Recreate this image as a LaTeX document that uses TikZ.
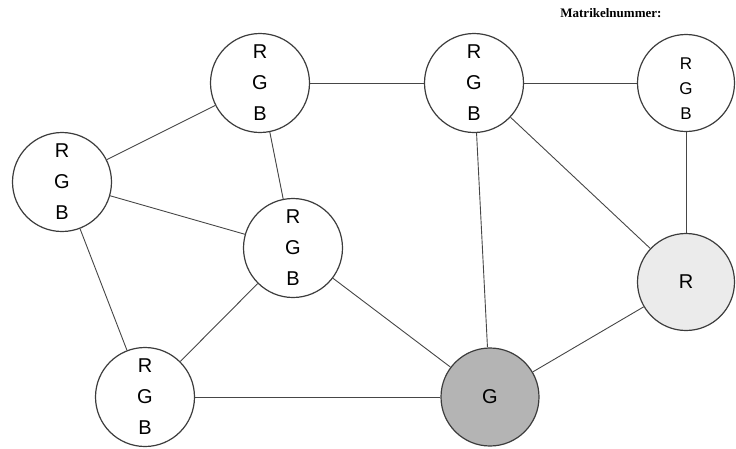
\documentclass[tikz,border=0pt]{standalone}
\usepackage{fontspec}
\setmainfont{Liberation Serif}
\newfontfamily\sansfnt{Liberation Sans}
\definecolor{lightfill}{RGB}{235,235,235}
\definecolor{darkfill}{RGB}{180,180,180}
\definecolor{rimcol}{RGB}{60,60,60}
\definecolor{edgecol}{RGB}{70,70,70}
\begin{document}
\begin{tikzpicture}[x=1pt,y=-1pt,
  vertex/.style={circle,draw=rimcol,line width=1.2pt,fill=white,minimum size=99pt,inner sep=0pt,
    align=center,font=\sansfnt\fontsize{20}{31}\selectfont},
  smallvertex/.style={vertex,minimum size=97pt,font=\sansfnt\fontsize{17}{25}\selectfont},
  link/.style={draw=edgecol,line width=0.9pt}]
\useasboundingbox (0,0) rectangle (736,448);
\node[anchor=base east,font=\bfseries\fontsize{13}{15}\selectfont] (title) at (665,17) {Matrikelnummer:};
\node[vertex] (L) at (62,182) {R\\G\\B};
\node[vertex] (TL) at (260,83) {R\\G\\B};
\node[vertex] (C) at (293,248) {R\\G\\B};
\node[vertex] (BL) at (145,397) {R\\G\\B};
\node[vertex] (TR) at (474,83) {R\\G\\B};
\node[smallvertex] (FR) at (686,83) {};
\node[font=\sansfnt\fontsize{17}{25}\selectfont,align=center,inner sep=0pt] (FRtext) at (686,89) {R\\G\\B};
\node[vertex,minimum size=97pt,fill=lightfill] (R) at (686,282) {R};
\node[vertex,minimum size=98pt,fill=darkfill] (G) at (490,397) {G};
\draw[link] (L) -- (TL);
\draw[link] (L) -- (C);
\draw[link] (L) -- (BL);
\draw[link] (TL) -- (TR);
\draw[link] (TL) -- (C);
\draw[link] (C) -- (BL);
\draw[link] (C) -- (G);
\draw[link] (BL) -- (G);
\draw[link] (TR) -- (FR);
\draw[link] (TR) -- (G);
\draw[link] (TR) -- (R);
\draw[link] (FR) -- (R);
\draw[link] (R) -- (G);
\end{tikzpicture}
\end{document}
